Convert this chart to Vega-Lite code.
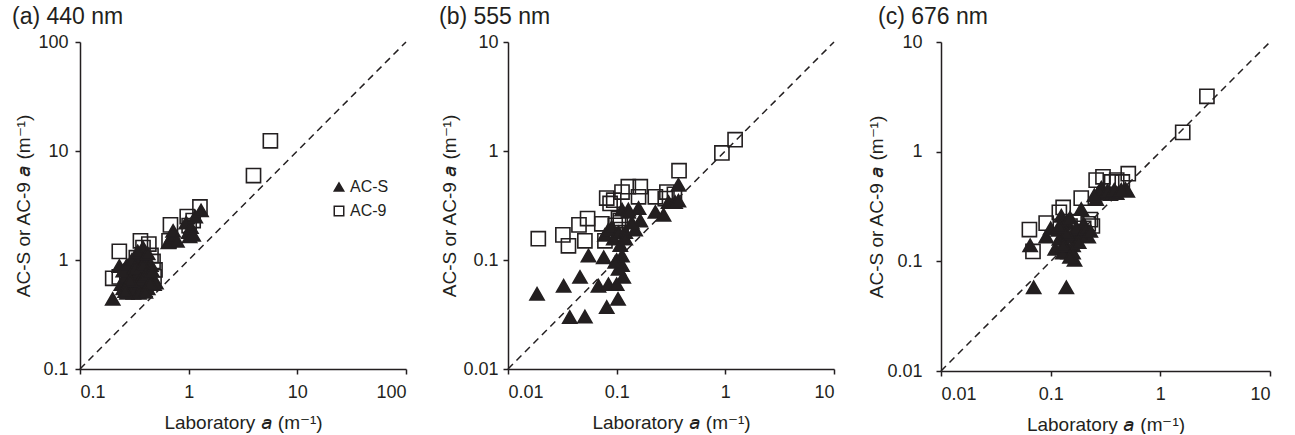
{
  "$schema": "https://vega.github.io/schema/vega-lite/v6.json",
  "background": "white",
  "padding": {"left": 12, "top": 6, "right": 2, "bottom": 0},
  "spacing": 32,
  "config": {
    "font": "Liberation Sans",
    "view": {"stroke": null},
    "axis": {
      "grid": false,
      "domainColor": "#231f20",
      "domainWidth": 1.5,
      "tickColor": "#231f20",
      "tickWidth": 1.5,
      "tickSize": 5,
      "labelColor": "#231f20",
      "labelFontSize": 18,
      "labelFont": "Liberation Sans",
      "titleColor": "#231f20",
      "titleFontSize": 19,
      "titleFontWeight": "normal",
      "titleFont": "Liberation Sans"
    },
    "axisX": {"labelPadding": 9, "titlePadding": 12},
    "axisY": {"labelPadding": 6, "titlePadding": 4},
    "title": {"fontSize": 23, "fontWeight": "normal", "color": "#231f20", "anchor": "start", "frame": "group", "font": "Liberation Sans", "offset": 4},
    "legend": {"labelFontSize": 16, "labelColor": "#231f20", "labelFont": "Liberation Sans"}
  },
  "datasets": {
    "a": [
      {"x": 0.2, "y": 0.68, "s": "AC-9"}, {"x": 0.23, "y": 0.7, "s": "AC-9"}, {"x": 0.23, "y": 1.2, "s": "AC-9"},
      {"x": 0.3, "y": 0.8, "s": "AC-9"}, {"x": 0.33, "y": 1.05, "s": "AC-9"}, {"x": 0.36, "y": 1.5, "s": "AC-9"},
      {"x": 0.38, "y": 1.3, "s": "AC-9"}, {"x": 0.43, "y": 1.4, "s": "AC-9"}, {"x": 0.45, "y": 1.1, "s": "AC-9"},
      {"x": 0.47, "y": 0.97, "s": "AC-9"}, {"x": 0.49, "y": 0.81, "s": "AC-9"}, {"x": 0.48, "y": 0.7, "s": "AC-9"},
      {"x": 0.4, "y": 0.6, "s": "AC-9"}, {"x": 0.66, "y": 1.5, "s": "AC-9"}, {"x": 0.68, "y": 2.1, "s": "AC-9"},
      {"x": 0.97, "y": 2.5, "s": "AC-9"}, {"x": 1.01, "y": 2.07, "s": "AC-9"}, {"x": 1.1, "y": 2.3, "s": "AC-9"},
      {"x": 1.27, "y": 3.07, "s": "AC-9"}, {"x": 3.95, "y": 5.95, "s": "AC-9"}, {"x": 5.65, "y": 12.4, "s": "AC-9"},
      {"x": 0.2, "y": 0.44, "s": "AC-S"}, {"x": 0.23, "y": 0.88, "s": "AC-S"}, {"x": 0.24, "y": 0.6, "s": "AC-S"},
      {"x": 0.25, "y": 0.55, "s": "AC-S"}, {"x": 0.26, "y": 0.7, "s": "AC-S"}, {"x": 0.27, "y": 0.5, "s": "AC-S"},
      {"x": 0.28, "y": 0.62, "s": "AC-S"}, {"x": 0.29, "y": 0.8, "s": "AC-S"}, {"x": 0.3, "y": 0.55, "s": "AC-S"},
      {"x": 0.31, "y": 0.5, "s": "AC-S"}, {"x": 0.32, "y": 0.72, "s": "AC-S"}, {"x": 0.33, "y": 0.95, "s": "AC-S"},
      {"x": 0.34, "y": 0.6, "s": "AC-S"}, {"x": 0.35, "y": 1.1, "s": "AC-S"}, {"x": 0.36, "y": 0.8, "s": "AC-S"},
      {"x": 0.37, "y": 0.52, "s": "AC-S"}, {"x": 0.38, "y": 1.3, "s": "AC-S"}, {"x": 0.39, "y": 0.68, "s": "AC-S"},
      {"x": 0.4, "y": 1.0, "s": "AC-S"}, {"x": 0.41, "y": 0.85, "s": "AC-S"}, {"x": 0.42, "y": 0.55, "s": "AC-S"},
      {"x": 0.43, "y": 0.75, "s": "AC-S"}, {"x": 0.45, "y": 0.9, "s": "AC-S"}, {"x": 0.47, "y": 0.65, "s": "AC-S"},
      {"x": 0.48, "y": 0.6, "s": "AC-S"}, {"x": 0.5, "y": 0.62, "s": "AC-S"},
      {"x": 0.25, "y": 0.8, "s": "AC-S"}, {"x": 0.27, "y": 0.9, "s": "AC-S"}, {"x": 0.3, "y": 1.0, "s": "AC-S"},
      {"x": 0.32, "y": 0.85, "s": "AC-S"}, {"x": 0.34, "y": 1.2, "s": "AC-S"}, {"x": 0.36, "y": 0.65, "s": "AC-S"},
      {"x": 0.38, "y": 0.9, "s": "AC-S"}, {"x": 0.4, "y": 0.72, "s": "AC-S"}, {"x": 0.42, "y": 1.15, "s": "AC-S"},
      {"x": 0.44, "y": 0.62, "s": "AC-S"}, {"x": 0.46, "y": 0.8, "s": "AC-S"}, {"x": 0.29, "y": 0.65, "s": "AC-S"},
      {"x": 0.26, "y": 0.52, "s": "AC-S"}, {"x": 0.35, "y": 0.5, "s": "AC-S"}, {"x": 0.4, "y": 0.51, "s": "AC-S"},
      {"x": 0.65, "y": 1.45, "s": "AC-S"},
      {"x": 0.7, "y": 1.65, "s": "AC-S"}, {"x": 0.72, "y": 1.85, "s": "AC-S"}, {"x": 0.78, "y": 1.5, "s": "AC-S"},
      {"x": 0.95, "y": 2.2, "s": "AC-S"}, {"x": 1.0, "y": 1.8, "s": "AC-S"}, {"x": 1.02, "y": 1.65, "s": "AC-S"},
      {"x": 1.05, "y": 2.0, "s": "AC-S"}, {"x": 1.1, "y": 1.7, "s": "AC-S"}, {"x": 1.15, "y": 2.5, "s": "AC-S"},
      {"x": 1.3, "y": 2.85, "s": "AC-S"}
    ],
    "b": [
      {"x": 0.019, "y": 0.157, "s": "AC-9"}, {"x": 0.032, "y": 0.17, "s": "AC-9"}, {"x": 0.036, "y": 0.135, "s": "AC-9"},
      {"x": 0.045, "y": 0.21, "s": "AC-9"}, {"x": 0.054, "y": 0.24, "s": "AC-9"}, {"x": 0.051, "y": 0.15, "s": "AC-9"},
      {"x": 0.073, "y": 0.215, "s": "AC-9"}, {"x": 0.078, "y": 0.15, "s": "AC-9"}, {"x": 0.081, "y": 0.37, "s": "AC-9"},
      {"x": 0.087, "y": 0.33, "s": "AC-9"}, {"x": 0.094, "y": 0.354, "s": "AC-9"}, {"x": 0.097, "y": 0.208, "s": "AC-9"},
      {"x": 0.108, "y": 0.23, "s": "AC-9"}, {"x": 0.104, "y": 0.24, "s": "AC-9"}, {"x": 0.11, "y": 0.19, "s": "AC-9"},
      {"x": 0.112, "y": 0.42, "s": "AC-9"}, {"x": 0.128, "y": 0.47, "s": "AC-9"}, {"x": 0.165, "y": 0.47, "s": "AC-9"},
      {"x": 0.159, "y": 0.38, "s": "AC-9"}, {"x": 0.227, "y": 0.38, "s": "AC-9"}, {"x": 0.29, "y": 0.42, "s": "AC-9"},
      {"x": 0.28, "y": 0.366, "s": "AC-9"}, {"x": 0.34, "y": 0.4, "s": "AC-9"}, {"x": 0.375, "y": 0.66, "s": "AC-9"},
      {"x": 0.93, "y": 0.96, "s": "AC-9"}, {"x": 1.23, "y": 1.27, "s": "AC-9"},
      {"x": 0.0185, "y": 0.049, "s": "AC-S"}, {"x": 0.0325, "y": 0.058, "s": "AC-S"}, {"x": 0.046, "y": 0.07, "s": "AC-S"},
      {"x": 0.037, "y": 0.03, "s": "AC-S"}, {"x": 0.051, "y": 0.0303, "s": "AC-S"}, {"x": 0.055, "y": 0.11, "s": "AC-S"},
      {"x": 0.076, "y": 0.106, "s": "AC-S"}, {"x": 0.068, "y": 0.058, "s": "AC-S"}, {"x": 0.081, "y": 0.037, "s": "AC-S"},
      {"x": 0.103, "y": 0.044, "s": "AC-S"}, {"x": 0.084, "y": 0.06, "s": "AC-S"}, {"x": 0.1, "y": 0.06, "s": "AC-S"},
      {"x": 0.115, "y": 0.07, "s": "AC-S"}, {"x": 0.104, "y": 0.083, "s": "AC-S"}, {"x": 0.1, "y": 0.1, "s": "AC-S"},
      {"x": 0.112, "y": 0.11, "s": "AC-S"}, {"x": 0.094, "y": 0.157, "s": "AC-S"}, {"x": 0.078, "y": 0.17, "s": "AC-S"},
      {"x": 0.084, "y": 0.19, "s": "AC-S"}, {"x": 0.09, "y": 0.2, "s": "AC-S"}, {"x": 0.104, "y": 0.18, "s": "AC-S"},
      {"x": 0.112, "y": 0.29, "s": "AC-S"}, {"x": 0.128, "y": 0.29, "s": "AC-S"}, {"x": 0.159, "y": 0.3, "s": "AC-S"},
      {"x": 0.165, "y": 0.23, "s": "AC-S"}, {"x": 0.148, "y": 0.19, "s": "AC-S"}, {"x": 0.12, "y": 0.18, "s": "AC-S"},
      {"x": 0.108, "y": 0.137, "s": "AC-S"}, {"x": 0.12, "y": 0.157, "s": "AC-S"}, {"x": 0.138, "y": 0.22, "s": "AC-S"},
      {"x": 0.112, "y": 0.09, "s": "AC-S"}, {"x": 0.097, "y": 0.096, "s": "AC-S"}, {"x": 0.128, "y": 0.276, "s": "AC-S"},
      {"x": 0.227, "y": 0.276, "s": "AC-S"}, {"x": 0.27, "y": 0.26, "s": "AC-S"}, {"x": 0.3, "y": 0.34, "s": "AC-S"},
      {"x": 0.345, "y": 0.34, "s": "AC-S"}, {"x": 0.37, "y": 0.35, "s": "AC-S"}, {"x": 0.37, "y": 0.49, "s": "AC-S"}
    ],
    "c": [
      {"x": 2.66, "y": 3.2, "s": "AC-9"}, {"x": 1.6, "y": 1.5, "s": "AC-9"}, {"x": 0.51, "y": 0.63, "s": "AC-9"},
      {"x": 0.3, "y": 0.59, "s": "AC-9"}, {"x": 0.26, "y": 0.55, "s": "AC-9"}, {"x": 0.4, "y": 0.55, "s": "AC-9"},
      {"x": 0.45, "y": 0.53, "s": "AC-9"}, {"x": 0.36, "y": 0.53, "s": "AC-9"}, {"x": 0.19, "y": 0.377, "s": "AC-9"},
      {"x": 0.13, "y": 0.31, "s": "AC-9"}, {"x": 0.12, "y": 0.28, "s": "AC-9"}, {"x": 0.091, "y": 0.223, "s": "AC-9"},
      {"x": 0.064, "y": 0.195, "s": "AC-9"}, {"x": 0.069, "y": 0.123, "s": "AC-9"}, {"x": 0.22, "y": 0.22, "s": "AC-9"},
      {"x": 0.23, "y": 0.24, "s": "AC-9"}, {"x": 0.24, "y": 0.21, "s": "AC-9"}, {"x": 0.17, "y": 0.23, "s": "AC-9"},
      {"x": 0.15, "y": 0.21, "s": "AC-9"}, {"x": 0.2, "y": 0.2, "s": "AC-9"},
      {"x": 0.07, "y": 0.058, "s": "AC-S"}, {"x": 0.139, "y": 0.058, "s": "AC-S"}, {"x": 0.065, "y": 0.14, "s": "AC-S"},
      {"x": 0.091, "y": 0.168, "s": "AC-S"}, {"x": 0.117, "y": 0.194, "s": "AC-S"}, {"x": 0.125, "y": 0.26, "s": "AC-S"},
      {"x": 0.144, "y": 0.12, "s": "AC-S"}, {"x": 0.165, "y": 0.103, "s": "AC-S"}, {"x": 0.19, "y": 0.3, "s": "AC-S"},
      {"x": 0.22, "y": 0.168, "s": "AC-S"}, {"x": 0.18, "y": 0.19, "s": "AC-S"}, {"x": 0.135, "y": 0.145, "s": "AC-S"},
      {"x": 0.11, "y": 0.13, "s": "AC-S"}, {"x": 0.155, "y": 0.168, "s": "AC-S"}, {"x": 0.129, "y": 0.12, "s": "AC-S"},
      {"x": 0.1, "y": 0.2, "s": "AC-S"}, {"x": 0.14, "y": 0.23, "s": "AC-S"}, {"x": 0.2, "y": 0.22, "s": "AC-S"},
      {"x": 0.12, "y": 0.16, "s": "AC-S"}, {"x": 0.16, "y": 0.14, "s": "AC-S"},
      {"x": 0.13, "y": 0.22, "s": "AC-S"}, {"x": 0.15, "y": 0.25, "s": "AC-S"}, {"x": 0.17, "y": 0.2, "s": "AC-S"},
      {"x": 0.19, "y": 0.17, "s": "AC-S"}, {"x": 0.21, "y": 0.2, "s": "AC-S"}, {"x": 0.14, "y": 0.18, "s": "AC-S"},
      {"x": 0.16, "y": 0.12, "s": "AC-S"}, {"x": 0.18, "y": 0.15, "s": "AC-S"}, {"x": 0.23, "y": 0.19, "s": "AC-S"},
      {"x": 0.12, "y": 0.21, "s": "AC-S"}, {"x": 0.13, "y": 0.14, "s": "AC-S"}, {"x": 0.15, "y": 0.11, "s": "AC-S"},
      {"x": 0.27, "y": 0.42, "s": "AC-S"}, {"x": 0.26, "y": 0.37, "s": "AC-S"}, {"x": 0.31, "y": 0.42, "s": "AC-S"},
      {"x": 0.35, "y": 0.41, "s": "AC-S"}, {"x": 0.4, "y": 0.42, "s": "AC-S"}, {"x": 0.48, "y": 0.46, "s": "AC-S"},
      {"x": 0.5, "y": 0.44, "s": "AC-S"}, {"x": 0.29, "y": 0.47, "s": "AC-S"},
      {"x": 0.28, "y": 0.44, "s": "AC-S"}, {"x": 0.33, "y": 0.44, "s": "AC-S"}, {"x": 0.38, "y": 0.45, "s": "AC-S"},
      {"x": 0.44, "y": 0.45, "s": "AC-S"}, {"x": 0.25, "y": 0.4, "s": "AC-S"}
    ],
    "da": [{"x": 0.1, "y": 0.1, "x2": 100, "y2": 100}],
    "db": [{"x": 0.01, "y": 0.01, "x2": 10, "y2": 10}]
  },
  "hconcat": [
    {
      "width": 326, "height": 327,
      "title": {"text": "(a) 440 nm", "dx": -68},
      "layer": [
        {
          "data": {"name": "da"},
          "mark": {"type": "rule", "strokeDash": [7, 5], "strokeWidth": 1.5, "color": "#231f20"},
          "encoding": {
            "x": {"field": "x", "type": "quantitative", "scale": {"type": "log", "domain": [0.1, 100], "nice": false}},
            "y": {"field": "y", "type": "quantitative", "scale": {"type": "log", "domain": [0.1, 100], "nice": false}},
            "x2": {"field": "x2"}, "y2": {"field": "y2"}
          }
        },
        {
          "data": {"name": "a"},
          "mark": {"type": "point", "size": 200, "strokeWidth": 1.6, "stroke": "#231f20", "opacity": 1},
          "encoding": {
            "x": {"field": "x", "type": "quantitative", "scale": {"type": "log", "domain": [0.1, 100], "nice": false},
              "axis": {"values": [0.1, 1, 10, 100], "labelExpr": "format(datum.value, '~g')", "title": "Laboratory 𝘢 (m⁻¹)"}},
            "y": {"field": "y", "type": "quantitative", "scale": {"type": "log", "domain": [0.1, 100], "nice": false},
              "axis": {"values": [0.1, 1, 10, 100], "labelExpr": "format(datum.value, '~g')", "title": "AC-S or AC-9 𝘢 (m⁻¹)", "labelPadding": 7}},
            "shape": {"field": "s", "type": "nominal", "scale": {"domain": ["AC-S", "AC-9"], "range": ["triangle-up", "square"]},
              "legend": {"title": null, "orient": "none", "legendX": 251, "legendY": 137, "symbolSize": 90, "symbolStrokeWidth": 1.5, "rowPadding": 8, "labelOffset": 3, "padding": 0}},
            "fill": {"field": "s", "type": "nominal", "scale": {"domain": ["AC-S", "AC-9"], "range": ["#231f20", "transparent"]},
              "legend": {"title": null, "orient": "none", "legendX": 251, "legendY": 137, "symbolSize": 90, "symbolStrokeWidth": 1.5, "rowPadding": 8, "labelOffset": 3, "padding": 0}}
          }
        }
      ]
    },
    {
      "width": 326, "height": 327,
      "title": {"text": "(b) 555 nm", "dx": -69},
      "layer": [
        {
          "data": {"name": "db"},
          "mark": {"type": "rule", "strokeDash": [7, 5], "strokeWidth": 1.5, "color": "#231f20"},
          "encoding": {
            "x": {"field": "x", "type": "quantitative", "scale": {"type": "log", "domain": [0.01, 10], "nice": false}},
            "y": {"field": "y", "type": "quantitative", "scale": {"type": "log", "domain": [0.01, 10], "nice": false}},
            "x2": {"field": "x2"}, "y2": {"field": "y2"}
          }
        },
        {
          "data": {"name": "b"},
          "mark": {"type": "point", "size": 200, "strokeWidth": 1.6, "stroke": "#231f20", "opacity": 1},
          "encoding": {
            "x": {"field": "x", "type": "quantitative", "scale": {"type": "log", "domain": [0.01, 10], "nice": false},
              "axis": {"values": [0.01, 0.1, 1, 10], "labelExpr": "format(datum.value, '~g')", "title": "Laboratory 𝘢 (m⁻¹)"}},
            "y": {"field": "y", "type": "quantitative", "scale": {"type": "log", "domain": [0.01, 10], "nice": false},
              "axis": {"values": [0.01, 0.1, 1, 10], "labelExpr": "format(datum.value, '~g')", "title": "AC-S or AC-9 𝘢 (m⁻¹)", "labelPadding": 5, "titlePadding": 3}},
            "shape": {"field": "s", "type": "nominal", "scale": {"domain": ["AC-S", "AC-9"], "range": ["triangle-up", "square"]}, "legend": null},
            "fill": {"field": "s", "type": "nominal", "scale": {"domain": ["AC-S", "AC-9"], "range": ["#231f20", "transparent"]}, "legend": null}
          }
        }
      ]
    },
    {
      "width": 329, "height": 329,
      "title": {"text": "(c) 676 nm", "dx": -63},
      "layer": [
        {
          "data": {"name": "db"},
          "mark": {"type": "rule", "strokeDash": [7, 5], "strokeWidth": 1.5, "color": "#231f20"},
          "encoding": {
            "x": {"field": "x", "type": "quantitative", "scale": {"type": "log", "domain": [0.01, 10], "nice": false}},
            "y": {"field": "y", "type": "quantitative", "scale": {"type": "log", "domain": [0.01, 10], "nice": false}},
            "x2": {"field": "x2"}, "y2": {"field": "y2"}
          }
        },
        {
          "data": {"name": "c"},
          "mark": {"type": "point", "size": 200, "strokeWidth": 1.6, "stroke": "#231f20", "opacity": 1},
          "encoding": {
            "x": {"field": "x", "type": "quantitative", "scale": {"type": "log", "domain": [0.01, 10], "nice": false},
              "axis": {"values": [0.01, 0.1, 1, 10], "labelExpr": "format(datum.value, '~g')", "title": "Laboratory 𝘢 (m⁻¹)"}},
            "y": {"field": "y", "type": "quantitative", "scale": {"type": "log", "domain": [0.01, 10], "nice": false},
              "axis": {"values": [0.01, 0.1, 1, 10], "labelExpr": "format(datum.value, '~g')", "title": "AC-S or AC-9 𝘢 (m⁻¹)", "labelPadding": 14, "titlePadding": 0}},
            "shape": {"field": "s", "type": "nominal", "scale": {"domain": ["AC-S", "AC-9"], "range": ["triangle-up", "square"]}, "legend": null},
            "fill": {"field": "s", "type": "nominal", "scale": {"domain": ["AC-S", "AC-9"], "range": ["#231f20", "transparent"]}, "legend": null}
          }
        }
      ]
    }
  ],
  "resolve": {"scale": {"x": "independent", "y": "independent", "shape": "independent", "fill": "independent"}, "legend": {"shape": "independent", "fill": "independent"}}
}
